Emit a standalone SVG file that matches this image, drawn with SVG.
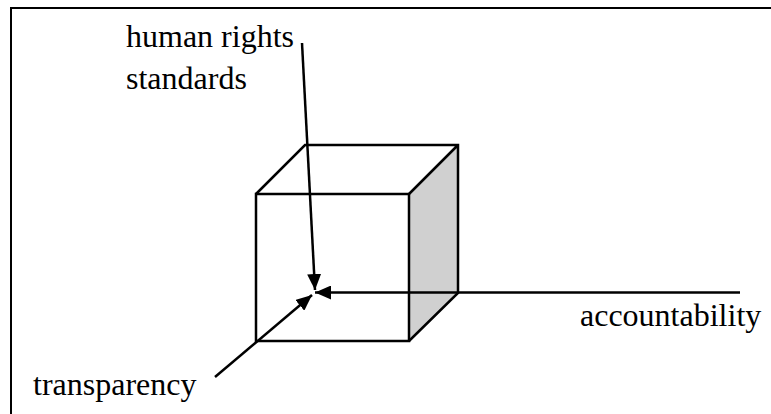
<svg xmlns="http://www.w3.org/2000/svg" width="771" height="414" viewBox="0 0 771 414">
<defs>
<marker id="ah" viewBox="0 0 16 14" refX="16" refY="7" markerWidth="16" markerHeight="14" markerUnits="userSpaceOnUse" orient="auto">
<path d="M0,0 L16,7 L0,14 Z" fill="#000"/>
</marker>
</defs>
<style>
.ln{stroke:#000;stroke-width:2.5;fill:none}
.fr{stroke:#000;stroke-width:2;fill:none}
.lbl{font-family:"Liberation Serif","Times New Roman",serif;font-size:32px;fill:#000}
</style>
<rect x="0" y="0" width="771" height="414" fill="#fff"/>
<g id="frame">
<path class="fr" d="M11,414 L11,8 L771,8"/>
</g>
<g id="cube">
<polygon points="409,194 458,145 458,293 409,341" fill="#d0d0d0" stroke="none"/>
<rect class="ln" x="256" y="194" width="153" height="147"/>
<path class="ln" d="M256,194 L305,145 L458,145 L458,293 L409,341 M409,194 L458,145"/>
</g>
<g id="connectors">
<line class="ln" x1="302" y1="43" x2="315" y2="290" marker-end="url(#ah)"/>
<line class="ln" x1="740" y1="292.5" x2="315" y2="292.5" marker-end="url(#ah)"/>
<line class="ln" x1="215" y1="377" x2="312" y2="295" marker-end="url(#ah)"/>
</g>
<g id="human-rights-standards">
<text class="lbl" x="126" y="47">human rights</text>
<text class="lbl" x="126" y="89">standards</text>
</g>
<g id="accountability">
<text class="lbl" x="580" y="326">accountability</text>
</g>
<g id="transparency">
<text class="lbl" x="33" y="395">transparency</text>
</g>
</svg>
